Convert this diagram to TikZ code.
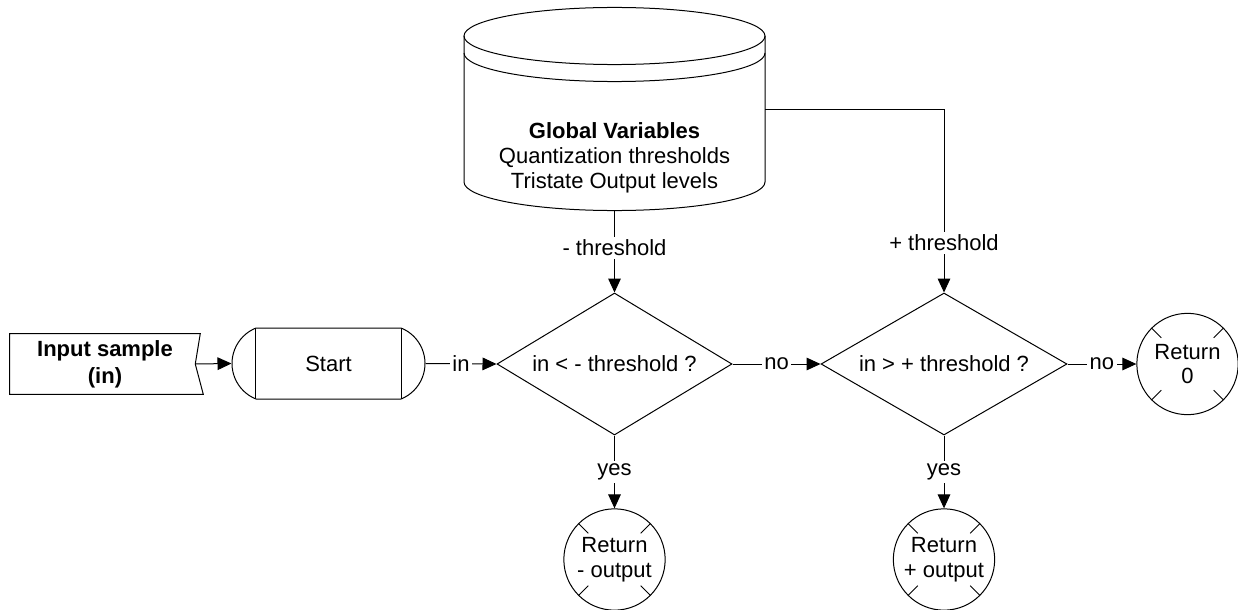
\documentclass[tikz,border=0pt]{standalone}
\usepackage{fontspec}
\setmainfont{Liberation Sans}
\usetikzlibrary{arrows.meta,shapes.geometric,shapes.misc,calc}
\begin{document}
\begin{tikzpicture}[x=0.75pt,y=-0.75pt,
  every node/.style={font=\fontsize{16.5}{18.6}\selectfont, inner sep=0pt},
  line/.style={line width=0.75pt, draw=black},
  arrow/.style={line, -{Triangle[length=10.5pt,width=9.5pt]}},
  lbl/.style={fill=white, inner sep=2pt},
  decision/.style={diamond, shape aspect=1.7, line, minimum height=106.5pt, align=center},
  retcircle/.style={circle, line, minimum size=76pt, align=center,
    path picture={\foreach \a in {45,135,225,315}{
      \draw[line] (path picture bounding box.center) ++(\a:27.75pt) -- ++(\a:12pt);}}},
  terminal/.style={rounded rectangle, rounded rectangle arc length=136, line,
    minimum width=144.75pt, minimum height=53.25pt,
    path picture={
      \draw[line] ([xshift=-55pt]path picture bounding box.north) -- ([xshift=-55pt]path picture bounding box.south);
      \draw[line] ([xshift=55pt]path picture bounding box.north) -- ([xshift=55pt]path picture bounding box.south);}},
  inputbox/.style={minimum width=142.5pt, minimum height=45pt, align=center,
    font=\fontsize{16.5}{20}\selectfont\bfseries},
]
\useasboundingbox (0,0) rectangle (1238,610);

% data store holding the global variables
\node[minimum width=225.75pt, minimum height=153pt] (gv) at (614.5,109) {};
\draw[line] (614.5,36) ellipse [x radius=112.875pt, y radius=21.4pt];
\draw[line] (464,53) arc[start angle=180, end angle=360, x radius=112.875pt, y radius=21.4pt];
\draw[line] (464,36) -- (464,182) arc[start angle=180, end angle=360, x radius=112.875pt, y radius=21.4pt] -- (765,36);
\node[align=center] (gvtext) at (614.5,158) {\textbf{Global Variables}\\Quantization thresholds\\Tristate Output levels};

% input data
\node[inputbox] (inp) at (105,364) {Input sample\\(in)};
\coordinate (inotch) at ([xshift=-3.75pt]inp.east);
\draw[line] (inp.north west) -- (inp.north east) -- (inotch) -- ([xshift=2.25pt]inp.south east) -- (inp.south west) -- cycle;

% process flow
\node[terminal] (start) at (328.5,363.5) {Start};
\node[decision, minimum width=176.25pt] (d1) at (614.5,364) {in < - threshold ?};
\node[decision, minimum width=184.5pt] (d2) at (944,364) {in > + threshold ?};
\node[retcircle] (rneg) at (614.5,559.5) {Return\\- output};
\node[retcircle] (rpos) at (944,559.5) {Return\\+ output};
\node[retcircle] (rzero) at (1187.5,364) {Return\\0};

% connectors
\draw[arrow] (inotch) -- (start.west);
\draw[arrow] (start.east) -- node[lbl] {in} (d1.west);
\draw[arrow] (d1.east) -- node[lbl] {no} (d2.west);
\draw[arrow] (d2.east) -- node[lbl] {no} (rzero.west);
\draw[arrow] (d1.south) -- node[lbl] {yes} (rneg.north);
\draw[arrow] (d2.south) -- node[lbl] {yes} (rpos.north);
\draw[arrow] (gv.south) -- node[lbl, pos=0.45] {- threshold} (d1.north);
\draw[arrow] (gv.east) -| node[lbl, pos=0.865] {+ threshold} (d2.north);
\end{tikzpicture}
\end{document}
